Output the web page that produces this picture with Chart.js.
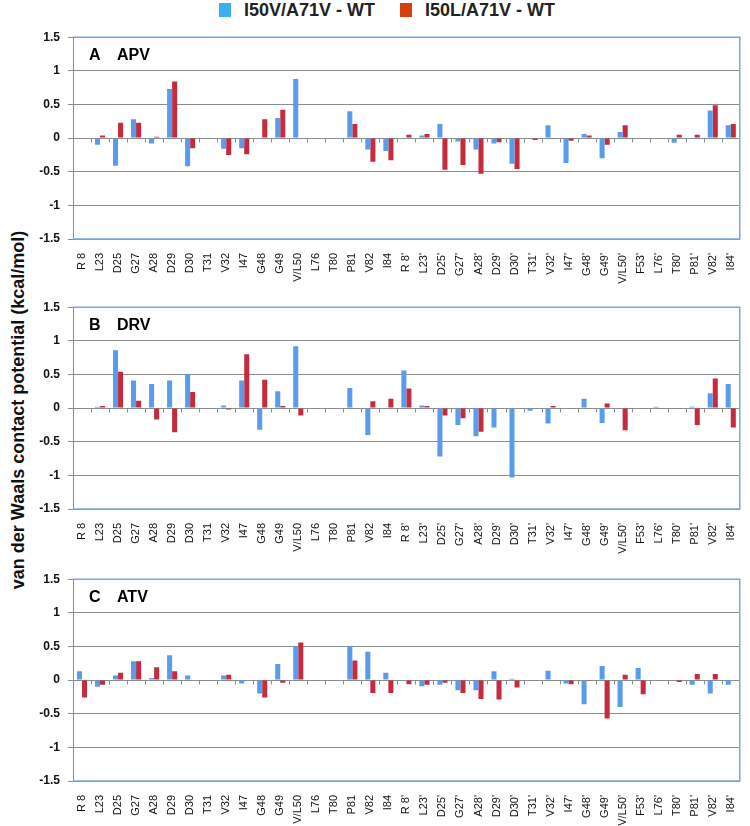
<!DOCTYPE html>
<html>
<head>
<meta charset="utf-8">
<script src="https://cdn.jsdelivr.net/npm/chart.js@4.4.0/dist/chart.umd.min.js"></script>
<style>
  body { margin: 0; background: #fff; width: 750px; height: 826px; overflow: hidden; position: relative; font-family: "Liberation Sans", Arial, sans-serif; }
  .panel { position: absolute; left: 0; }
  #legend { position: absolute; top: 0px; left: 219px; display: flex; font-weight: bold; font-size: 18px; color: #222; line-height: 20px; }
  #legend span.item { display: flex; align-items: center; margin-right: 25px; }
  #legend i { display: inline-block; width: 12px; height: 14px; margin-right: 13px; }
  #ytitle { position: absolute; left: 18px; top: 410px; transform: translate(-50%, -50%) rotate(-90deg); white-space: nowrap; font-weight: bold; font-size: 18px; color: #111; }
</style>
</head>
<body>
<div id="legend">
  <span class="item"><i style="background:#3eaef4"></i>I50V/A71V - WT</span>
  <span class="item"><i style="background:#d5400f"></i>I50L/A71V - WT</span>
</div>
<div id="ytitle">van der Waals contact potential (kcal/mol)</div>
<canvas id="chartA" class="panel" width="750" height="262" style="top:22px"></canvas>
<canvas id="chartB" class="panel" width="750" height="262" style="top:292px"></canvas>
<canvas id="chartC" class="panel" width="750" height="262" style="top:564px"></canvas>
<script>
// residue labels along the x axis
const residues = ["R 8", "L23", "D25", "G27", "A28", "D29", "D30", "T31", "V32", "I47", "G48", "G49", "V/L50", "L76", "T80", "P81", "V82", "I84",
  "R 8'", "L23'", "D25'", "G27'", "A28'", "D29'", "D30'", "T31'", "V32'", "I47'", "G48'", "G49'", "V/L50'", "F53'", "L76'", "T80'", "P81'", "V82'", "I84'"];

// A  APV
const apvI50V = [0, -0.10, -0.41, 0.28, -0.08, 0.73, -0.42, 0, -0.16, -0.15, -0.01, 0.30, 0.88, 0, 0, 0.40, -0.17, -0.19,
  -0.01, 0.04, 0.21, -0.05, -0.17, -0.08, -0.38, 0, 0.19, -0.37, 0.06, -0.30, 0.09, 0, 0, -0.07, 0, 0.41, 0.19];
const apvI50L = [0, 0.04, 0.23, 0.23, 0.02, 0.84, -0.15, 0, -0.25, -0.24, 0.28, 0.42, 0, 0, 0, 0.21, -0.35, -0.33,
  0.05, 0.06, -0.47, -0.40, -0.53, -0.06, -0.46, -0.03, -0.01, -0.04, 0.04, -0.10, 0.19, 0, 0, 0.05, 0.05, 0.49, 0.21];

// B  DRV
const drvI50V = [0, 0.02, 0.86, 0.41, 0.36, 0.41, 0.50, 0, 0.04, 0.41, -0.32, 0.25, 0.92, 0, 0, 0.30, -0.40, 0.01,
  0.56, 0.04, -0.72, -0.25, -0.42, -0.29, -1.03, -0.04, -0.23, 0, 0.14, -0.22, 0.01, 0, 0.02, 0, 0.02, 0.22, 0.36];
const drvI50L = [0, 0.03, 0.54, 0.11, -0.17, -0.36, 0.24, 0, -0.02, 0.80, 0.42, 0.03, -0.11, 0, 0, 0.01, 0.10, 0.14,
  0.29, 0.03, -0.11, -0.15, -0.35, 0.01, 0, 0, 0.03, 0.01, 0, 0.07, -0.33, 0, 0, 0, -0.25, 0.44, -0.29];

// C  ATV
const atvI50V = [0.13, -0.10, 0.07, 0.28, 0.03, 0.37, 0.07, 0, 0.07, -0.05, -0.20, 0.24, 0.50, 0, 0, 0.50, 0.42, 0.11,
  -0.01, -0.09, -0.07, -0.15, -0.15, 0.13, 0.02, 0, 0.14, -0.05, -0.36, 0.21, -0.40, 0.18, 0, 0, -0.07, -0.20, -0.07];
const atvI50L = [-0.26, -0.07, 0.11, 0.28, 0.19, 0.13, 0, 0, 0.08, 0.01, -0.26, -0.04, 0.56, 0, 0, 0.29, -0.19, -0.19,
  -0.06, -0.07, -0.04, -0.19, -0.28, -0.29, -0.11, 0, 0, -0.06, -0.01, -0.57, 0.08, -0.21, 0, -0.03, 0.09, 0.09, 0];

const blueBar = '#5a9cec';
const redBar = '#c62a3d';
const frameBlue = '#7aa7db';
const gridGray = '#878d8d';

// plot frame, little ticks on the zero line and the panel letter
const panelDecor = {
  id: 'panelDecor',
  beforeDatasetsDraw(chart) {
    const { ctx, scales: { x, y } } = chart;
    ctx.save();
    ctx.strokeStyle = gridGray;
    ctx.lineWidth = 1;
    const zero = Math.round(y.getPixelForValue(0)) + 0.5;
    const step = x.getPixelForValue(1) - x.getPixelForValue(0);
    for (let i = 1; i < residues.length; i++) {
      const px = Math.round(x.getPixelForValue(i) - step / 2) + 0.5;
      ctx.beginPath();
      ctx.moveTo(px, zero);
      ctx.lineTo(px, zero + 4);
      ctx.stroke();
    }
    ctx.restore();
  },
  afterDraw(chart, args, opts) {
    const { ctx, chartArea: a } = chart;
    ctx.save();
    ctx.strokeStyle = frameBlue;
    ctx.lineWidth = 1.5;
    ctx.beginPath();
    ctx.moveTo(a.left, a.top);
    ctx.lineTo(a.right, a.top);
    ctx.lineTo(a.right, a.bottom);
    ctx.lineTo(a.left, a.bottom);
    ctx.stroke();
    ctx.fillStyle = '#000';
    ctx.font = 'bold 16px "Liberation Sans", Arial, sans-serif';
    ctx.textBaseline = 'alphabetic';
    ctx.fillText(opts.letter, a.left + 16, a.top + 23);
    ctx.fillText(opts.drug, a.left + 44, a.top + 23);
    ctx.restore();
  }
};

function makePanel(id, letter, drug, valuesV, valuesL) {
  return new Chart(document.getElementById(id).getContext('2d'), {
    type: 'bar',
    data: {
      labels: residues,
      datasets: [
        { label: 'I50V/A71V - WT', data: valuesV, backgroundColor: blueBar, categoryPercentage: 0.56, barPercentage: 1.0 },
        { label: 'I50L/A71V - WT', data: valuesL, backgroundColor: redBar, categoryPercentage: 0.56, barPercentage: 1.0 }
      ]
    },
    options: {
      responsive: false,
      animation: false,
      layout: { padding: { left: 29, right: 2, top: 10, bottom: 0 } },
      plugins: {
        legend: { display: false },
        tooltip: { enabled: false },
        panelDecor: { letter: letter, drug: drug }
      },
      scales: {
        x: {
          grid: { display: false },
          border: { display: false },
          ticks: {
            autoSkip: false, minRotation: 90, maxRotation: 90, padding: 6,
            color: '#111', font: { family: '"Liberation Sans", Arial, sans-serif', size: 11 }
          },
          afterFit(scale) { scale.height = 45; }
        },
        y: {
          min: -1.5, max: 1.5,
          grid: { color: gridGray, lineWidth: 1, tickLength: 5, tickColor: gridGray },
          border: { color: gridGray, width: 1 },
          ticks: {
            stepSize: 0.5, padding: 8, color: '#111',
            font: { family: '"Liberation Sans", Arial, sans-serif', size: 12, weight: 'bold' },
            callback: v => String(v)
          },
          afterFit(scale) { scale.width = 44; }
        }
      }
    },
    plugins: [panelDecor]
  });
}

makePanel('chartA', 'A', 'APV', apvI50V, apvI50L);
makePanel('chartB', 'B', 'DRV', drvI50V, drvI50L);
makePanel('chartC', 'C', 'ATV', atvI50V, atvI50L);
</script>
</body>
</html>
